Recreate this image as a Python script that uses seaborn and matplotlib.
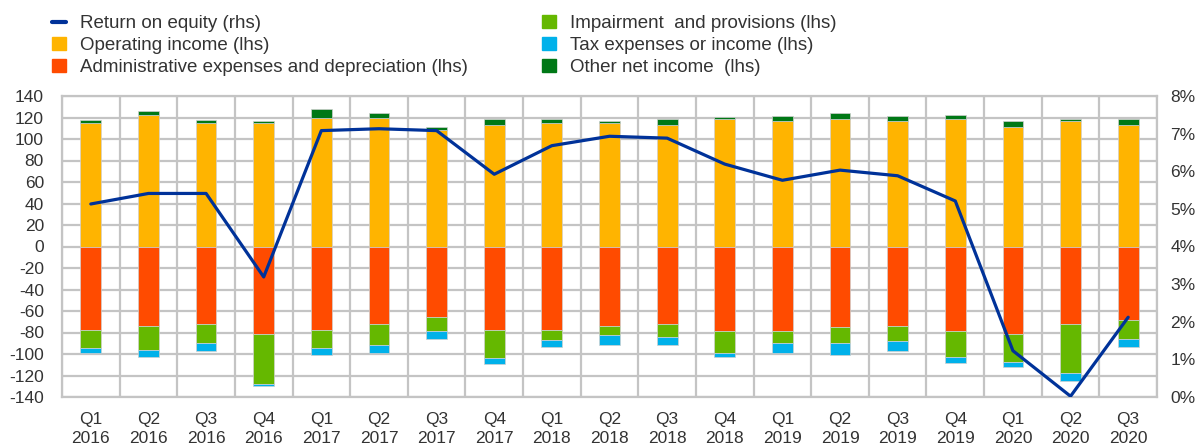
import numpy as np
import matplotlib
matplotlib.use('Agg')
import matplotlib.pyplot as plt
from matplotlib.lines import Line2D
from matplotlib.patches import Patch
import seaborn as sns

# quarters on the x axis
quarters = ['Q1\n2016', 'Q2\n2016', 'Q3\n2016', 'Q4\n2016',
            'Q1\n2017', 'Q2\n2017', 'Q3\n2017', 'Q4\n2017',
            'Q1\n2018', 'Q2\n2018', 'Q3\n2018', 'Q4\n2018',
            'Q1\n2019', 'Q2\n2019', 'Q3\n2019', 'Q4\n2019',
            'Q1\n2020', 'Q2\n2020', 'Q3\n2020']

# lhs series (EUR bn)
operating = [115, 122, 115, 115, 120, 120, 108, 113, 115, 115, 113, 119, 117, 119, 117, 119, 111, 117, 113]
other_net = [3, 4, 3, 2, 8, 4, 3, 6, 4, 2, 6, 1.5, 4, 5, 4, 3, 6, 2, 6]
admin = [-78, -73.5, -72, -81, -78, -72, -66, -78, -78, -73.5, -72, -79, -79, -75, -73.5, -79, -81, -72, -68]
impairment = [-16, -22.5, -18, -47, -16, -20, -13, -25.5, -9, -9, -12.5, -20.5, -11, -14.5, -14.5, -24, -26, -46, -18.5]
tax = [-5, -7, -7.5, -1.5, -7, -7, -7, -5.5, -6.5, -9.5, -7, -3, -9.5, -11, -9.5, -5.5, -5.5, -7, -7]

# rhs series (%)
roe = [5.13, 5.41, 5.41, 3.19, 7.08, 7.13, 7.08, 5.92, 6.68, 6.93, 6.88, 6.19, 5.76, 6.03, 5.88, 5.21, 1.23, 0.02, 2.12]

navy = '#003299'
c_oper = '#FFB400'
c_admin = '#FF4B00'
c_imp = '#65B800'
c_tax = '#00B1EA'
c_other = '#007816'
grid_c = '#c4c4c4'
txt_c = '#333333'

sns.set_theme(style='white')
plt.rcParams['font.family'] = ['Liberation Sans', 'DejaVu Sans']
plt.rcParams['axes.unicode_minus'] = False

fig = plt.figure(figsize=(11.97, 4.47), dpi=100)
ax = fig.add_axes([62/1197, 50/447, 1095/1197, 301/447])

# stacked bars - positive then negative stacks
bw = 0.36
kw = dict(ax=ax, width=bw, saturation=1, edgecolor='#d0d0d0', linewidth=0.5, zorder=3)
sns.barplot(x=quarters, y=operating, color=c_oper, **kw)
sns.barplot(x=quarters, y=other_net, bottom=operating, color=c_other, **kw)
sns.barplot(x=quarters, y=admin, color=c_admin, **kw)
sns.barplot(x=quarters, y=impairment, bottom=admin, color=c_imp, **kw)
neg_base = np.array(admin) + np.array(impairment)
sns.barplot(x=quarters, y=tax, bottom=neg_base, color=c_tax, **kw)

ax.set_ylim(-140, 140)
ax.set_yticks(range(-140, 141, 20))
ax.set_xticks(range(len(quarters)))
ax.set_xticklabels(quarters, linespacing=1.3)
ax.set_xticks(np.arange(-0.5, len(quarters), 1), minor=True)
ax.grid(False)
ax.yaxis.grid(True, color=grid_c, lw=1.6)
ax.xaxis.grid(True, which='minor', color=grid_c, lw=1.6)
ax.set_axisbelow(True)
ax.tick_params(axis='y', length=0, pad=13, labelsize=12.5, labelcolor=txt_c)
ax.tick_params(axis='x', which='both', length=0, pad=11, labelsize=12.5, labelcolor=txt_c)
for s in ax.spines.values():
    s.set_color(grid_c)
    s.set_linewidth(1.6)

# return on equity on the right axis
ax2 = ax.twinx()
sns.lineplot(x=np.arange(len(quarters)), y=roe, ax=ax2, color=navy, lw=2.3)
ax2.set_ylim(0, 8)
ax2.set_yticks(range(0, 9))
ax2.set_yticklabels([f'{v}%' for v in range(0, 9)])
ax2.tick_params(axis='y', length=0, pad=9.5, labelsize=12.5, labelcolor=txt_c)
ax2.grid(False)
for s in ax2.spines.values():
    s.set_visible(False)
ax.set_xlim(-0.5, len(quarters) - 0.5)

# legend in two columns, placed separately
leg_kw = dict(loc='upper left', frameon=False, fontsize=13.5,
              handlelength=0.75, handleheight=0.7, handletextpad=0.75,
              labelspacing=0.26, borderaxespad=0, borderpad=0, labelcolor=txt_c)
fig.legend([Line2D([0], [0], color=navy, lw=3), Patch(color=c_oper), Patch(color=c_admin)],
           ['Return on equity (rhs)', 'Operating income (lhs)',
            'Administrative expenses and depreciation (lhs)'],
           bbox_to_anchor=(52/1197, 1 - 15/447), **leg_kw)
fig.legend([Patch(color=c_imp), Patch(color=c_tax), Patch(color=c_other)],
           ['Impairment  and provisions (lhs)', 'Tax expenses or income (lhs)',
            'Other net income  (lhs)'],
           bbox_to_anchor=(542/1197, 1 - 15/447), **leg_kw)

fig.savefig('out.png', dpi=100)
